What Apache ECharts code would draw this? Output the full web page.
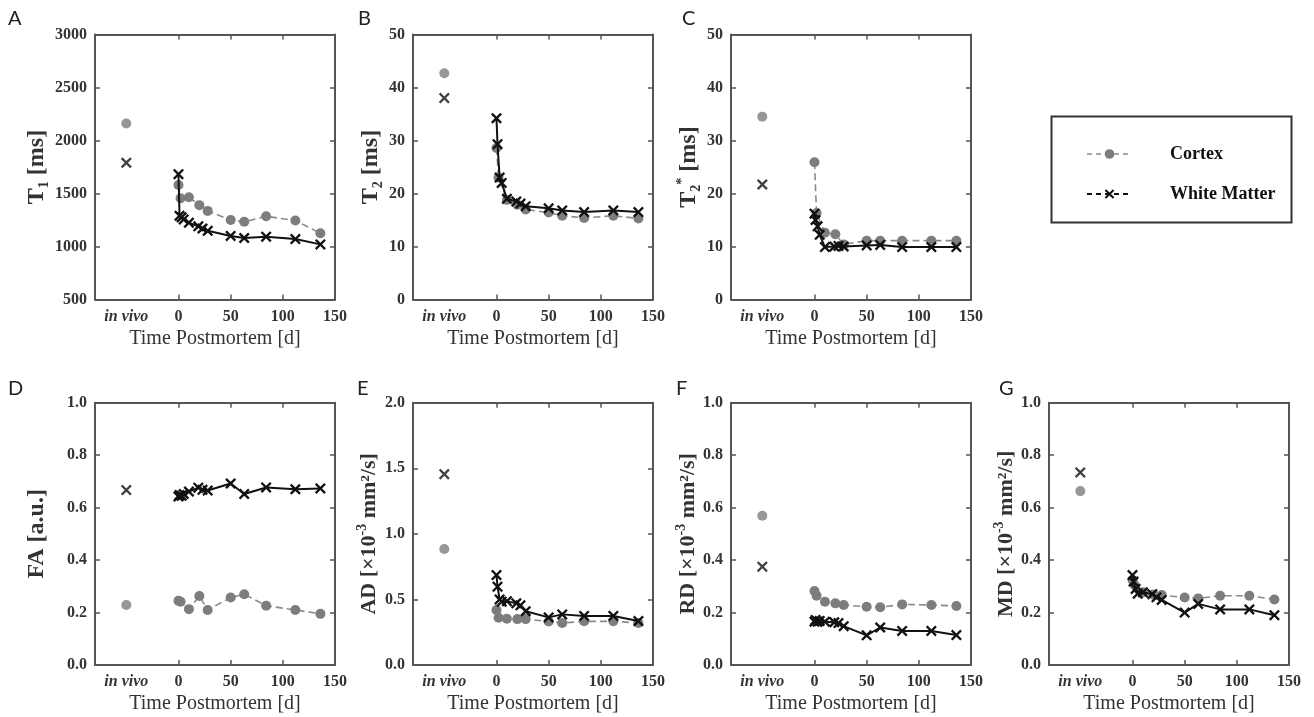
<!DOCTYPE html>
<html>
<head>
<meta charset="utf-8">
<script src="https://cdn.jsdelivr.net/npm/echarts@6/dist/echarts.min.js"></script>
<style>html,body{margin:0;padding:0;background:#fff}#c{width:1314px;height:717px}</style>
</head>
<body>
<div id="c"></div>
<script>
// ---- data ----
const xTickLabels = ['in vivo', '0', '50', '100', '150'];
const xTickValues = [-50, 0, 50, 100, 150];
const inVivoX = -50;
const tCortex = [0, 2, 10, 20, 28, 50, 63, 84, 112, 136];
const tWM = [0, 1, 3, 5, 10, 19, 23, 28, 50, 63, 84, 112, 136];

const cortexA = [1580, 1455, 1465, 1390, 1336, 1250, 1233, 1285, 1245, 1125];
const wmA = [1682, 1290, 1275, 1255, 1225, 1190, 1170, 1148, 1100, 1080, 1093, 1070, 1020];
const vivoA = [2160, 1790];

const cortexB = [28.6, 23.0, 18.8, 17.9, 17.0, 16.4, 15.8, 15.4, 15.8, 15.3];
const wmB = [34.2, 29.3, 23.0, 22.0, 19.0, 18.5, 18.1, 17.6, 17.2, 16.8, 16.5, 16.8, 16.5];
const vivoB = [42.7, 38.0];

const cortexC = [25.9, 16.3, 12.6, 12.3, 10.4, 11.1, 11.1, 11.1, 11.1, 11.1];
const wmC = [16.2, 15.0, 13.8, 12.2, 9.9, 10.0, 10.1, 10.0, 10.2, 10.3, 9.9, 9.9, 9.9];
const vivoC = [34.5, 21.7];

const cortexD = [0.245, 0.241, 0.213, 0.263, 0.21, 0.257, 0.27, 0.226, 0.21, 0.195];
const wmD = [0.642, 0.648, 0.645, 0.652, 0.661, 0.676, 0.668, 0.665, 0.692, 0.652, 0.677, 0.670, 0.673];
const vivoD = [0.229, 0.667];

const cortexE = [0.42, 0.36, 0.352, 0.35, 0.35, 0.332, 0.32, 0.333, 0.333, 0.32];
const wmE = [0.686, 0.597, 0.50, 0.483, 0.487, 0.47, 0.455, 0.41, 0.363, 0.386, 0.374, 0.374, 0.335];
const vivoE = [0.885, 1.455];

const cortexF = [0.282, 0.264, 0.241, 0.235, 0.229, 0.222, 0.22, 0.231, 0.229, 0.225];
const wmF = [0.165, 0.172, 0.165, 0.168, 0.165, 0.163, 0.16, 0.148, 0.113, 0.143, 0.13, 0.13, 0.114];
const vivoF = [0.569, 0.375];

const cortexG = [0.324, 0.305, 0.277, 0.269, 0.267, 0.257, 0.254, 0.264, 0.264, 0.25];
const wmG = [0.343, 0.318, 0.29, 0.272, 0.277, 0.27, 0.258, 0.248, 0.2, 0.233, 0.212, 0.212, 0.19];
const vivoG = [0.663, 0.734];

const seriesNames = ['Cortex', 'White Matter'];
const xAxisTitle = 'Time Postmortem [d]';

// ---- layout ----
const SERIF = 'Liberation Serif';
const panels = [
  {L:'A', c:cortexA, w:wmA, v:vivoA, min:500, max:3000, step:500, dec:0, name:'{b|T}{sub|1}{b| [ms]}', left:95, top:34.5, h:265, gap:44},
  {L:'B', c:cortexB, w:wmB, v:vivoB, min:0, max:50, step:10, dec:0, name:'{b|T}{sub|2}{b| [ms]}', left:413, top:34.5, h:265, gap:27},
  {L:'C', c:cortexC, w:wmC, v:vivoC, min:0, max:50, step:10, dec:0, name:'{b|T}{sub|2}{sup|*}{b| [ms]}', left:731, top:34.5, h:265, gap:28},
  {L:'D', c:cortexD, w:wmD, v:vivoD, min:0, max:1, step:0.2, dec:1, name:'{b|FA [a.u.]}', left:95, top:402.7, h:262.3, gap:44},
  {L:'E', c:cortexE, w:wmE, v:vivoE, min:0, max:2, step:0.5, dec:1, name:'{s|AD [×10}{sup|-3}{s| mm²/s]}', left:413, top:402.7, h:262.3, gap:30},
  {L:'F', c:cortexF, w:wmF, v:vivoF, min:0, max:1, step:0.2, dec:1, name:'{s|RD [×10}{sup|-3}{s| mm²/s]}', left:731, top:402.7, h:262.3, gap:28},
  {L:'G', c:cortexG, w:wmG, v:vivoG, min:0, max:1, step:0.2, dec:1, name:'{s|MD [×10}{sup|-3}{s| mm²/s]}', left:1049, top:402.7, h:262.3, gap:18}
];
const letterPos = {A:[8,9], B:[358,9], C:[682,9], D:[8,379], E:[357,379], F:[676,379], G:[999,379]};

const XSYM = 'path://M1.5,0 L5,3.5 L8.5,0 L10,1.5 L6.5,5 L10,8.5 L8.5,10 L5,6.5 L1.5,10 L0,8.5 L3.5,5 L0,1.5 Z';
const AX = '#555';
const grids = [], xAxes = [], yAxes = [], series = [], titles = [];

panels.forEach((p, i) => {
  grids.push({left: p.left, top: p.top, width: 240, height: p.h, show: false});
  const common = {type:'value', min:-80, max:150, gridIndex:i,
    axisLine:{show:true, onZero:false, lineStyle:{color:AX, width:2}},
    splitLine:{show:false}};
  xAxes.push(Object.assign({}, common, {position:'bottom',
    name: xAxisTitle, nameLocation:'middle', nameGap: 29,
    nameTextStyle:{fontFamily:SERIF, fontSize:20, color:'#333'},
    axisTick:{show:true, inside:true, length:5, customValues:[0,50,100,150], lineStyle:{color:AX, width:1.5}},
    axisLabel:{show:true, margin:9, customValues:xTickValues, color:'#333', fontFamily:SERIF, fontWeight:'bold', fontSize:16,
      formatter: v => { const k = xTickValues.indexOf(v); const s = k >= 0 ? xTickLabels[k] : ''; return v === inVivoX ? '{iv|' + s + '}' : s; },
      rich:{iv:{fontFamily:SERIF, fontStyle:'italic', fontWeight:'bold', fontSize:16, color:'#333'}}}
  }));
  xAxes.push(Object.assign({}, common, {position:'top',
    axisTick:{show:true, inside:true, length:5, customValues:[0,50,100,150], lineStyle:{color:AX, width:1.5}},
    axisLabel:{show:false}}));
  const yc = {type:'value', min:p.min, max:p.max, interval:p.step, gridIndex:i,
    axisLine:{show:true, onZero:false, lineStyle:{color:AX, width:2}},
    axisTick:{show:true, inside:true, length:5, lineStyle:{color:AX, width:1.5}},
    splitLine:{show:false}};
  yAxes.push(Object.assign({}, yc, {position:'left',
    name: p.name, nameLocation:'middle', nameGap:p.gap, nameRotate:90,
    nameTextStyle:{color:'#333', rich:{
      b:{fontFamily:SERIF, fontWeight:'bold', fontSize:24, color:'#333', lineHeight:28},
      s:{fontFamily:SERIF, fontWeight:'bold', fontSize:22, color:'#333', lineHeight:28},
      sub:{fontFamily:SERIF, fontWeight:'bold', fontSize:14, color:'#333', lineHeight:14, verticalAlign:'bottom'},
      sup:{fontFamily:SERIF, fontWeight:'bold', fontSize:14, color:'#333', lineHeight:14, verticalAlign:'top'}
    }},
    axisLabel:{margin:8, color:'#333', fontFamily:SERIF, fontWeight:'bold', fontSize:16,
      formatter: v => v.toFixed(p.dec)}}));
  yAxes.push(Object.assign({}, yc, {position:'right', axisLabel:{show:false}}));

  series.push({type:'line', name:seriesNames[0], xAxisIndex:2*i, yAxisIndex:2*i,
    data: tCortex.map((t, k) => [t, p.c[k]]), showAllSymbol:true,
    symbol:'circle', symbolSize:10, itemStyle:{color:'#7d7d7d'},
    lineStyle:{color:'#8a8a8a', width:1.6, type:[7,4]}, z:2, animation:false});
  series.push({type:'line', name:seriesNames[1], xAxisIndex:2*i, yAxisIndex:2*i,
    data: tWM.map((t, k) => [t, p.w[k]]), showAllSymbol:true,
    symbol:XSYM, symbolSize:11, itemStyle:{color:'#111'},
    lineStyle:{color:'#111', width:2}, z:3, animation:false});
  series.push({type:'scatter', name:'vivoC'+i, xAxisIndex:2*i, yAxisIndex:2*i,
    data:[[inVivoX, p.v[0]]], symbol:'circle', symbolSize:10, itemStyle:{color:'#7d7d7d'}, animation:false});
  series.push({type:'scatter', name:'vivoW'+i, xAxisIndex:2*i, yAxisIndex:2*i,
    data:[[inVivoX, p.v[1]]], symbol:XSYM, symbolSize:11, itemStyle:{color:'#111'}, animation:false});

  const lp = letterPos[p.L];
  titles.push({text:p.L, left:lp[0], top:lp[1], padding:0,
    textStyle:{fontFamily:'Lato', fontWeight:'normal', fontSize:20, color:'#222'}});
});

const chart = echarts.init(document.getElementById('c'), null, {renderer:'canvas'});
chart.setOption({
  animation:false,
  backgroundColor:'#fff',
  title: titles,
  grid: grids, xAxis: xAxes, yAxis: yAxes, series: series,
  legend:{left:1081, top:140, orient:'vertical', itemWidth:45, itemHeight:12, itemGap:22, selectedMode:false,
    data:[{name:seriesNames[0], lineStyle:{type:[5,4], color:'#8a8a8a', width:1.6}},
          {name:seriesNames[1], lineStyle:{type:[5,4], color:'#111', width:2}}],
    textStyle:{fontFamily:SERIF, fontWeight:'bold', fontSize:18, color:'#111', padding:[0,0,0,33]}},
  graphic:[{type:'rect', left:1049, top:114, shape:{width:240, height:106},
    style:{fill:'none', stroke:'#333', lineWidth:2}}]
});
</script>
</body>
</html>
